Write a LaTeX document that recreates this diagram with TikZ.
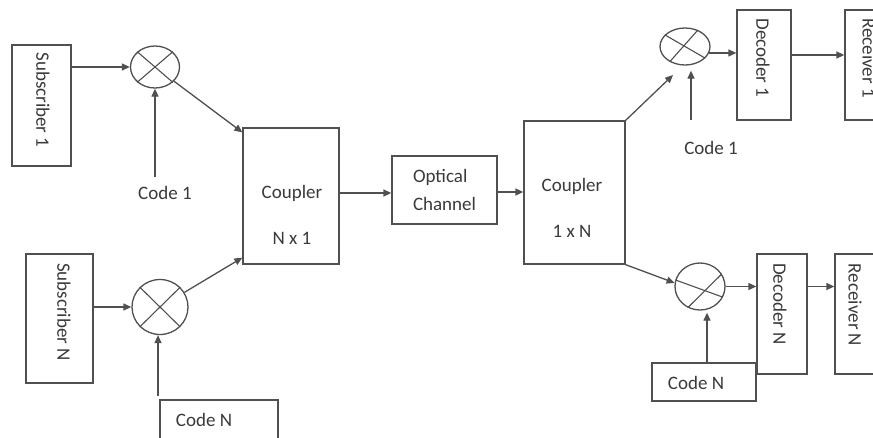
\documentclass[tikz,border=0pt]{standalone}
\usepackage{fontspec}
\setmainfont{Carlito}
\usetikzlibrary{arrows.meta,shapes.geometric,calc}
\definecolor{ln}{HTML}{505050}
\definecolor{tx}{HTML}{3A3A3A}
\begin{document}
\begin{tikzpicture}[x=1pt,y=-1pt,
  box/.style={draw=ln, line width=1.3pt, rectangle, inner sep=0pt},
  mixer/.style={draw=ln, line width=1.3pt, ellipse, inner sep=0pt},
  txt/.style={text=tx, font=\fontsize{19}{23}\selectfont, inner sep=0pt},
  conn/.style={draw=ln, line width=1.3pt, -{Triangle[length=8pt,width=7pt]}},
  plain/.style={draw=ln, line width=1.1pt}]
\useasboundingbox (0,0) rectangle (873,437);
\clip (0,0) rectangle (873,437);
\fill[white] (0,0) rectangle (873,437);

% left side
\node[box, minimum width=59pt, minimum height=121pt] (sub1) at (41.5,105.5) {};
\node[txt, rotate=-90] (sub1t) at (43,100) {Subscriber 1};
\node[box, minimum width=67pt, minimum height=129pt] (subN) at (59.5,318.5) {};
\node[txt, rotate=-90] (subNt) at (64,312) {Subscriber N};

\node[mixer, minimum width=49pt, minimum height=42pt] (mx1) at (155,67) {};
\draw[plain] (mx1.north west) -- (mx1.south east) (mx1.north east) -- (mx1.south west);
\node[mixer, minimum width=56pt, minimum height=55pt] (mxN) at (160,307) {};
\draw[plain] (mxN.north west) -- (mxN.south east) (mxN.north east) -- (mxN.south west);

\node[txt] (c1) at (165,193) {Code 1};
\coordinate (c1top) at (155,177);
\draw[conn] (c1top) -- (c1top |- mx1.south);

\node[box, minimum width=118pt, minimum height=45pt] (cNL) at (219,422.5) {};
\node[txt] (cNLt) at (204,420) {Code N};
\coordinate (cNLout) at (158,396);
\draw[conn] (cNLout) -- (cNLout |- mxN.south);

\draw[conn] (sub1.east |- mx1.west) -- (mx1.west);
\draw[conn] (subN.east |- mxN.west) -- (mxN.west);

% couplers and channel
\node[box, minimum width=96pt, minimum height=136pt] (cA) at (291,196) {};
\node[txt] (cAt1) at (292,193) {Coupler};
\node[txt] (cAt2) at (292,238) {N x 1};

\draw[conn] (mx1) -- ([yshift=-5pt]cA.north west);
\draw[conn] (mxN) -- ([yshift=7pt]cA.south west);

\node[box, txt, font=\fontsize{19}{28}\selectfont, align=left, minimum width=105pt, minimum height=68pt] (oc) at (444.5,190) {Optical\\Channel};

\node[box, minimum width=101pt, minimum height=143pt] (cB) at (574.5,192.5) {};
\node[txt] (cBt1) at (572,186) {Coupler};
\node[txt] (cBt2) at (572,231) {1 x N};

\coordinate (aOut) at ([yshift=3pt]cA.east);
\draw[conn] (aOut) -- (aOut -| oc.west);
\coordinate (ocOut) at ([yshift=-2pt]oc.east);
\draw[conn] (ocOut) -- (ocOut -| cB.west);

% right upper branch
\node[mixer, minimum width=50pt, minimum height=37pt] (mxR1) at (685,46.5) {};
\draw[plain] (mxR1.150) -- (mxR1.-30) (mxR1.225) -- (mxR1.52);
\coordinate (r1in) at (673,75);
\draw[conn] (cB.north east) -- (r1in);

\node[txt] (c1R) at (711,148) {Code 1};
\coordinate (c1Rtop) at (691,120);
\draw[conn] (c1Rtop) -- ($(c1Rtop |- mxR1.south)+(0,5)$);

\node[box, minimum width=54pt, minimum height=110pt] (dec1) at (764,65) {};
\node[txt, rotate=-90] (dec1t) at (763,58) {Decoder 1};
\node[box, minimum width=48pt, minimum height=110pt] (rec1) at (869,65) {};
\node[txt, rotate=-90] (rec1t) at (869,58) {Receiver 1};

\draw[conn] (mxR1.-15) -- (mxR1.-15 -| dec1.west);
\coordinate (d1Out) at ([yshift=10pt]dec1.east);
\draw[conn] (d1Out) -- (d1Out -| rec1.west);

% right lower branch
\node[mixer, minimum width=50pt, minimum height=47pt] (mxRN) at (700,286.5) {};
\draw[plain] (mxRN.165) -- (mxRN.-25) (mxRN.240) -- (mxRN.30);
\draw[conn] (cB.south east) -- (mxRN.172);

\node[box, minimum width=50pt, minimum height=120pt] (decN) at (782,314) {};
\node[txt, rotate=-90] (decNt) at (780,304) {Decoder N};
\node[box, minimum width=41pt, minimum height=120pt] (recN) at (855.5,314) {};
\node[txt, rotate=-90] (recNt) at (855,305) {Receiver N};

\draw[conn] (mxRN.east) -- (mxRN.east -| decN.west);
\draw[conn] (decN.east |- mxRN.east) -- (recN.west |- mxRN.east);

\node[box, minimum width=104pt, minimum height=38pt] (cNR) at (704,382) {};
\node[txt] (cNRt) at (696,383) {Code N};
\coordinate (cNRout) at ([xshift=3pt]cNR.north);
\draw[conn] (cNRout) -- ($(cNRout |- mxRN.south)+(0,2)$);
\end{tikzpicture}
\end{document}
